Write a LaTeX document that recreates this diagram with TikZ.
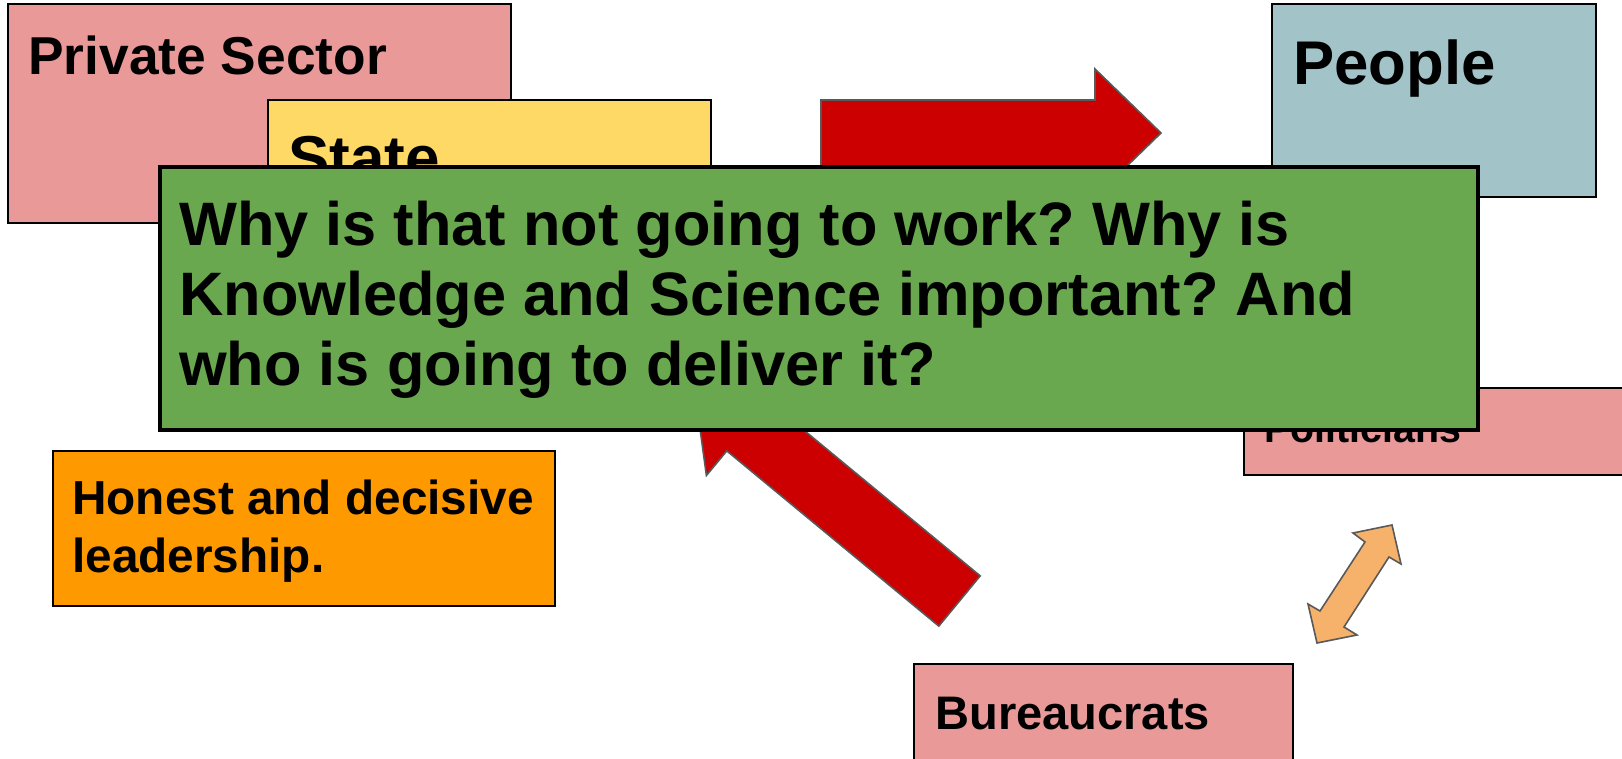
\documentclass[tikz,border=0pt]{standalone}
\usepackage{fontspec}
\setmainfont{Liberation Sans}
\frenchspacing

\definecolor{pinkbox}{HTML}{EA9999}
\definecolor{yellowbox}{HTML}{FFD966}
\definecolor{bluebox}{HTML}{A2C4C9}
\definecolor{greenbox}{HTML}{6AA84F}
\definecolor{orangebox}{HTML}{FF9900}
\definecolor{redarrow}{HTML}{CC0000}
\definecolor{lightorange}{HTML}{F6B26B}
\definecolor{arrowgray}{HTML}{595959}

\newcommand{\boxfont}[2]{\fontsize{#1}{#2}\selectfont\bfseries}

\tikzset{
    box/.style={draw=black, line width=1.1pt},
    boxtext/.style={anchor=base west, inner sep=0pt, align=left},
    blockarrow/.style={draw=arrowgray, line width=1.2pt, line join=miter},
}

\begin{document}
\begin{tikzpicture}[x=0.75pt, y=-0.75pt]
        % Canvas:
        \useasboundingbox (0, 0) rectangle (1622, 759);
        \clip (0, 0) rectangle (1622, 759);

        % Boxes behind the question:
        \draw[box, fill=pinkbox] (8, 4) rectangle (511, 223);
        \node[boxtext, font=\boxfont{40}{46}] (private) at (28, 74.5) {Private Sector};
        \draw[box, fill=yellowbox] (268, 100) rectangle (711, 300);
        \node[boxtext, font=\boxfont{46.5}{53}] (state) at (288, 180) {State};

        % Arrow to the people
        \draw[blockarrow, fill=redarrow] (821, 100) -- (1095, 100) -- (1095, 69) -- (1161, 133)
                                         -- (1095, 197) -- (1095, 167) -- (821, 167) -- cycle;

        \draw[box, fill=bluebox] (1272, 4) rectangle (1596, 197);
        \node[boxtext, font=\boxfont{46.3}{53}] (people) at (1293, 85) {People};
        \draw[box, fill=pinkbox] (1244, 388) rectangle (1640, 475);
        \node[boxtext, font=\boxfont{29.5}{34}] (politicians) at (1264, 443) {Politicians};

        % Arrow from the bureaucrats
        \draw[blockarrow, fill=redarrow] (980.2, 575.9) -- (768.2, 400.7) -- (788.6, 376.1) -- (693.5, 381.2)
                                         -- (706.4, 475.5) -- (726.8, 450.9) -- (938.8, 626.1) -- cycle;

        % Question (anchored on its last line):
        \draw[draw=black, line width=3pt, fill=greenbox] (160, 167) rectangle (1478, 430);
        \node[boxtext, font=\boxfont{46}{52.5}] (question) at (179, 386)
            {Why is that not going to work? Why is\\
             Knowledge and Science important? And\\
             who is going to deliver it?};

        % Boxes below:
        \draw[box, fill=orangebox] (53, 451) rectangle (555, 606);
        \node[boxtext, font=\boxfont{35.8}{43.5}] (leadership) at (72, 572)
            {Honest and decisive\\ leadership.};
        \draw[box, fill=pinkbox] (914, 664) rectangle (1293, 790);
        \node[boxtext, font=\boxfont{35.3}{40}] (bureaucrats) at (935, 729) {Bureaucrats};

        % Both ways
        \draw[blockarrow, fill=lightorange] (1392, 525) -- (1353, 533) -- (1365, 542) -- (1320, 611)
                                            -- (1308, 604) -- (1317, 643) -- (1357, 635) -- (1344, 627)
                                            -- (1389, 557) -- (1401, 564) -- cycle;
\end{tikzpicture}
\end{document}
